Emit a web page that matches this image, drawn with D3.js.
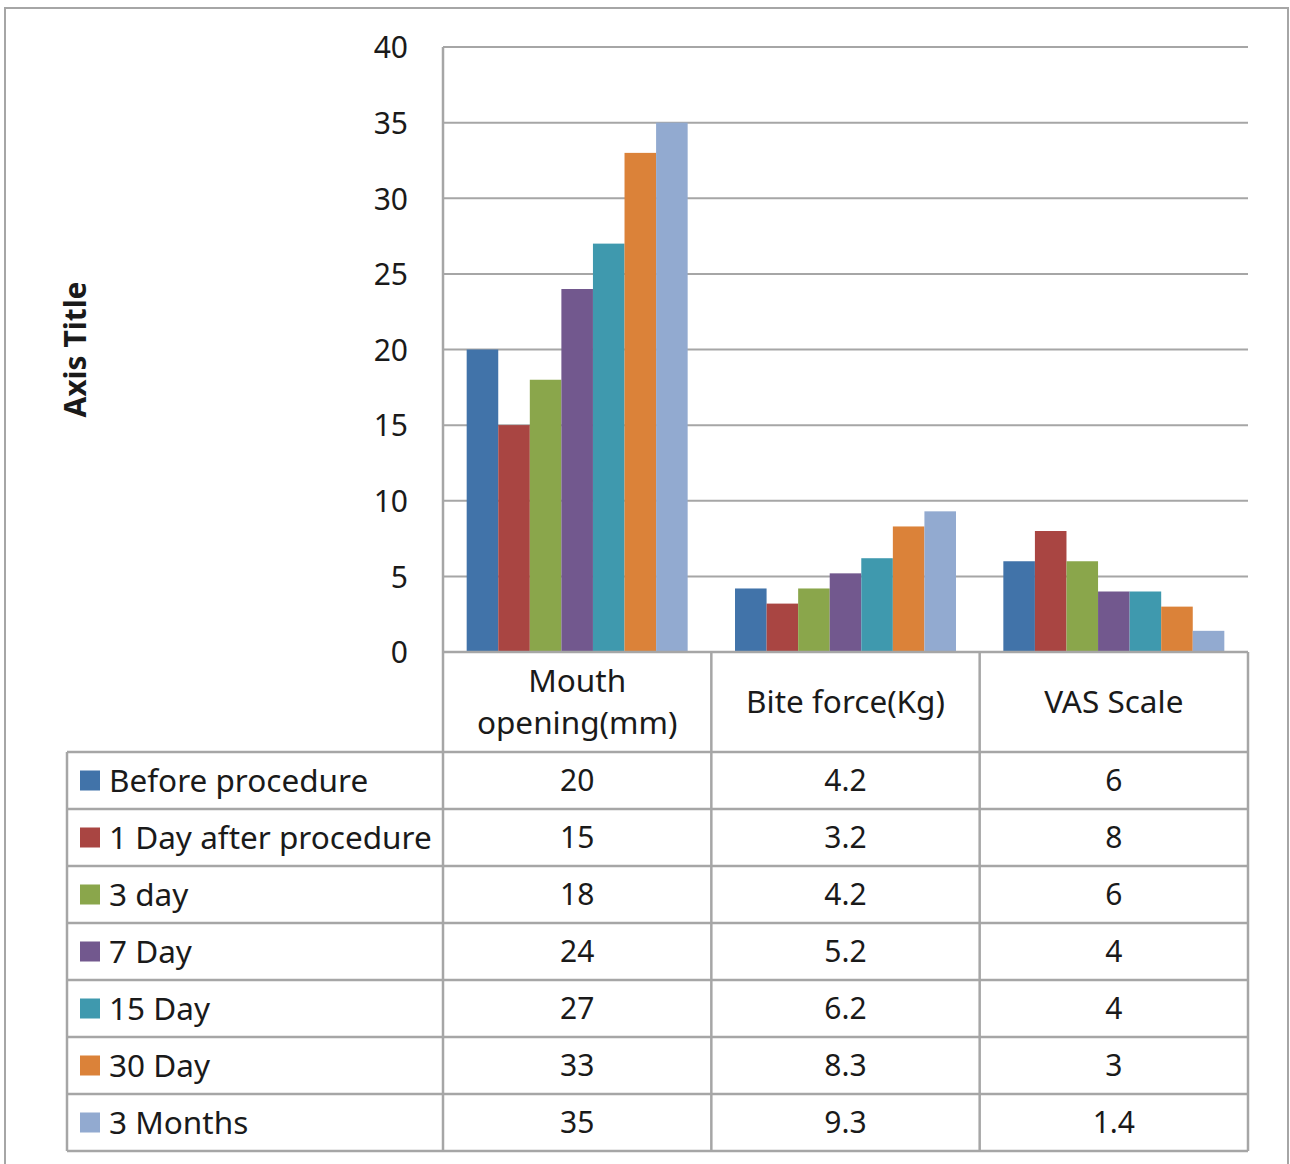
<!DOCTYPE html>
<html>
<head>
<meta charset="utf-8">
<script src="https://cdn.jsdelivr.net/npm/d3@7"></script>
<style>
  html, body { margin: 0; padding: 0; background: #fff; }
  svg { display: block; }
  text { font-family: "Noto Sans", "Open Sans", sans-serif; fill: #1a1a1a; }
</style>
</head>
<body>
<svg id="chart" width="1290" height="1164"></svg>
<script>
// Measures (one per column of the data table)
const categories = [["Mouth", "opening(mm)"], ["Bite force(Kg)"], ["VAS Scale"]];
const seriesNames = ["Before procedure", "1 Day after procedure", "3 day", "7 Day", "15 Day", "30 Day", "3 Months"];
const seriesColors = ["#4173a9", "#a94542", "#8aa64b", "#72588e", "#3f99ae", "#db8239", "#92aad0"];
const seriesValues = [
  [20, 4.2, 6],
  [15, 3.2, 8],
  [18, 4.2, 6],
  [24, 5.2, 4],
  [27, 6.2, 4],
  [33, 8.3, 3],
  [35, 9.3, 1.4]
];
const yTicks = [0, 5, 10, 15, 20, 25, 30, 35, 40];
const axisTitle = "Axis Title";

const svg = d3.select("#chart");
const gridColor = "#a6a6a6";
const numSize = 30;
const labelSize = 31.5;

// Layout
const plot = { left: 443, right: 1248, top: 47, bottom: 652 };
const tableLeft = 67;
const headerBottom = 752;
const rowH = 57;
const tableBottom = headerBottom + rowH * seriesNames.length;

// Outer frame
svg.append("rect")
  .attr("x", 5).attr("y", 8).attr("width", 1283).attr("height", 1170)
  .attr("fill", "none").attr("stroke", gridColor).attr("stroke-width", 2);

const y = d3.scaleLinear().domain([0, 40]).range([plot.bottom, plot.top]);
const x0 = d3.scaleBand().domain(d3.range(categories.length)).range([plot.left, plot.right]).paddingInner(0).paddingOuter(0);
const x1 = d3.scaleBand().domain(d3.range(seriesNames.length))
  .range([0, x0.bandwidth()]).paddingInner(0).paddingOuter(0.75);

// Gridlines
svg.append("g").selectAll("line").data(yTicks.filter(t => t > 0)).join("line")
  .attr("x1", plot.left).attr("x2", plot.right)
  .attr("y1", d => y(d)).attr("y2", d => y(d))
  .attr("stroke", gridColor).attr("stroke-width", 2);

// Y axis labels
const yAxis = d3.axisLeft(y).tickValues(yTicks).tickSize(0).tickPadding(0);
const gy = svg.append("g").attr("transform", `translate(408,0)`).call(yAxis);
gy.select(".domain").remove();
gy.selectAll("text")
  .attr("font-size", numSize).attr("font-family", "Noto Sans").attr("fill", "#1a1a1a")
  .attr("dy", "0.36em");

// Bars
const groups = svg.append("g").selectAll("g").data(categories.map((c, i) => i)).join("g")
  .attr("transform", i => `translate(${x0(i)},0)`);
groups.selectAll("rect")
  .data(ci => seriesValues.map((vals, si) => ({ si, v: vals[ci] })))
  .join("rect")
  .attr("x", d => x1(d.si))
  .attr("width", x1.bandwidth())
  .attr("y", d => y(d.v))
  .attr("height", d => y(0) - y(d.v))
  .attr("fill", d => seriesColors[d.si]);

// Axis title
svg.append("text")
  .attr("transform", `translate(86,${(plot.top + plot.bottom) / 2}) rotate(-90)`)
  .attr("text-anchor", "middle")
  .attr("font-size", 30).attr("font-weight", "bold")
  .text(axisTitle);

// Table grid lines
const lines = svg.append("g").attr("stroke", gridColor).attr("stroke-width", 2.5);
// horizontal: x-axis base line, header bottom and row separators
lines.append("line").attr("x1", plot.left).attr("x2", plot.right).attr("y1", plot.bottom).attr("y2", plot.bottom);
d3.range(seriesNames.length + 1).forEach(r => {
  const yy = headerBottom + r * rowH;
  lines.append("line").attr("x1", tableLeft).attr("x2", plot.right).attr("y1", yy).attr("y2", yy);
});
// vertical: value axis line through the table, category boundaries
lines.append("line").attr("x1", plot.left).attr("x2", plot.left).attr("y1", plot.top).attr("y2", tableBottom);
d3.range(1, categories.length + 1).forEach(i => {
  const xx = plot.left + i * x0.bandwidth();
  lines.append("line").attr("x1", xx).attr("x2", xx).attr("y1", plot.bottom).attr("y2", tableBottom);
});
lines.append("line").attr("x1", tableLeft).attr("x2", tableLeft).attr("y1", headerBottom).attr("y2", tableBottom);

// Category headers
categories.forEach((lab, i) => {
  const cx = x0(i) + x0.bandwidth() / 2;
  const cy = (plot.bottom + headerBottom) / 2;
  const lh = 42;
  lab.forEach((line, k) => {
    svg.append("text")
      .attr("x", cx).attr("y", cy + (k - (lab.length - 1) / 2) * lh)
      .attr("dy", "0.36em").attr("text-anchor", "middle")
      .attr("font-size", labelSize).text(line);
  });
});

// Table rows: legend key, series name, values
seriesNames.forEach((name, si) => {
  const cy = headerBottom + si * rowH + rowH / 2;
  svg.append("rect").attr("x", 80).attr("y", cy - 10).attr("width", 20).attr("height", 20)
    .attr("fill", seriesColors[si]);
  svg.append("text").attr("x", 109).attr("y", cy).attr("dy", "0.36em")
    .attr("font-size", labelSize).text(name);
  seriesValues[si].forEach((v, ci) => {
    svg.append("text")
      .attr("x", x0(ci) + x0.bandwidth() / 2).attr("y", cy).attr("dy", "0.36em")
      .attr("text-anchor", "middle").attr("font-size", numSize)
      .text(d3.format("")(v));
  });
});
</script>
</body>
</html>
